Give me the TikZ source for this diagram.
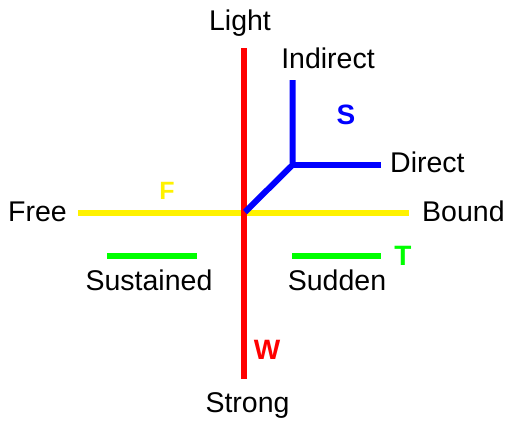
\documentclass[tikz,border=0pt]{standalone}
\usepackage{fontspec}
\setmainfont{Liberation Sans}
\begin{document}
\begin{tikzpicture}[x=1pt,y=-1pt,
  lbl/.style={inner sep=0pt,font=\fontsize{28.5}{32}\selectfont},
  big/.style={inner sep=0pt,font=\fontsize{28}{32}\selectfont\bfseries},
  axis/.style={line width=6pt},
]
\useasboundingbox (0,0) rectangle (508,421);
% coordinates
\coordinate (top) at (243.5,48);
\coordinate (bot) at (243.5,379);
\coordinate (lft) at (78,213);
\coordinate (rgt) at (409,213);
\coordinate (O) at (245,212);
\coordinate (J) at (292.5,165);
\coordinate (Jup) at (292.5,80);
\coordinate (Jrt) at (381,165);
\coordinate (g1a) at (107,255.5);
\coordinate (g1b) at (197,255.5);
\coordinate (g2a) at (292,255.5);
\coordinate (g2b) at (381,255.5);
% lines
\draw[axis,yellow] (lft) -- (rgt);
\draw[axis,red] (top) -- (bot);
\draw[axis,blue,line join=miter] (O) -- (J) -- (Jup);
\draw[axis,blue] (J) -- (Jrt);
\draw[axis,green] (g1a) -- (g1b);
\draw[axis,green] (g2a) -- (g2b);
% labels
\node[lbl,anchor=base] (light) at (240,30) {Light};
\node[lbl,anchor=base] (strong) at (247.5,412) {Strong};
\node[lbl,anchor=base east] (free) at (67,221) {Free};
\node[lbl,anchor=base west] (bound) at (422,221) {Bound};
\node[lbl,anchor=base] (indirect) at (328,68) {Indirect};
\node[lbl,anchor=base west] (direct) at (390,172) {Direct};
\node[lbl,anchor=base] (sustained) at (149,290) {Sustained};
\node[lbl,anchor=base] (sudden) at (337,290) {Sudden};
\node[big,yellow,font=\fontsize{25}{28}\selectfont\bfseries] (F) at (167,191) {F};
\node[big,blue] (S) at (346,115) {S};
\node[big,green] (T) at (403,256) {T};
\node[big,red] (W) at (267,350) {W};
\end{tikzpicture}
\end{document}
